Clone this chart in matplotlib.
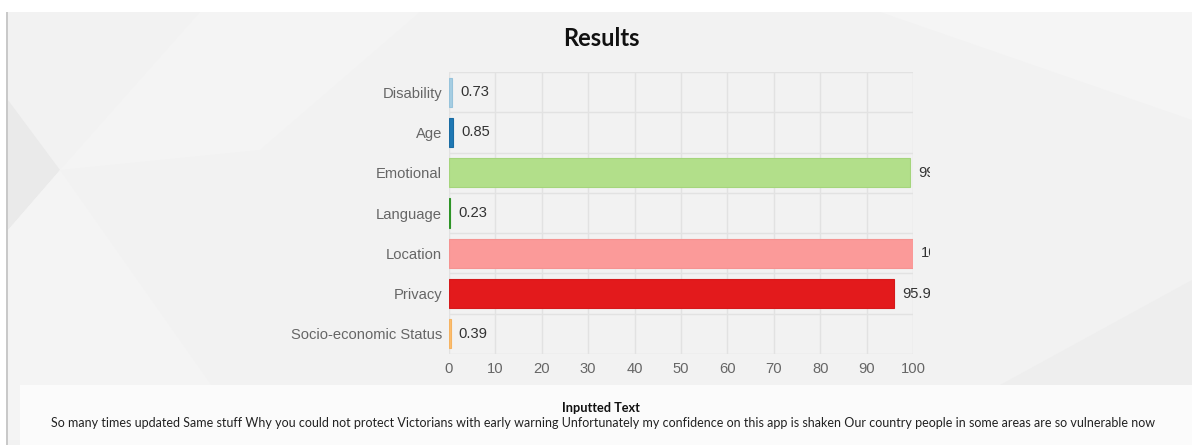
import matplotlib
matplotlib.use('Agg')
import matplotlib.pyplot as plt
from   matplotlib.patches import Rectangle, Polygon
from   matplotlib.transforms import Bbox

categories = ['Disability', 'Age', 'Emotional', 'Language',
              'Location', 'Privacy', 'Socio-economic Status']
scores     = [0.73, 0.85, 99.3, 0.23, 100, 95.93, 0.39]
labels     = ['0.73', '0.85', '99.3', '0.23', '100', '95.93', '0.39']
colors     = ['#a6cee3', '#1f78b4', '#b2df8a', '#33a02c',
              '#fb9a99', '#e31a1c', '#fdbf6f']
edges      = ['#97c3db', '#1a6ca3', '#a5d57c', '#2e9427',
              '#f59391', '#d5191b', '#f5b362']
xticks     = list(range(0, 101, 10))

inputted_text = ('So many times updated Same stuff Why you could not protect Victorians '
                 'with early warning Unfortunately my confidence on this app is shaken '
                 'Our country people in some areas are so vulnerable now')

W, H = 1192, 445
fig = plt.figure(figsize=(W / 100, H / 100), dpi=100)
fig.patch.set_facecolor('white')

def px(x0, y0, x1, y1):
    # pixel box (top-left origin) -> figure fraction rectangle
    return (x0 / W, 1 - y1 / H, (x1 - x0) / W, (y1 - y0) / H)

# page background
x, y, w, h = px(8, 12, W, H)
fig.patches.append(Rectangle((x, y), w, h, transform=fig.transFigure,
                             facecolor='#f2f2f2', edgecolor='none', zorder=-5))
x, y, w, h = px(6, 12, 8, H)
fig.patches.append(Rectangle((x, y), w, h, transform=fig.transFigure,
                             facecolor='#c9c9c9', edgecolor='none', zorder=-4))

# faint facets in the background
facets = [
    ([(8, 100), (60, 170), (8, 230)], '#eaeaea'),
    ([(8, 230), (60, 170), (250, 440), (8, 440)], '#f4f4f4'),
    ([(60, 170), (200, 12), (420, 12), (260, 150)], '#f4f4f4'),
    ([(880, 12), (1192, 12), (1192, 120)], '#f5f5f5'),
    ([(1000, 385), (1192, 280), (1192, 385)], '#eeeeee'),
    ([(200, 385), (250, 440), (290, 385)], '#e8e8e8'),
]
for pts, c in facets:
    fig.patches.append(Polygon([(px_ / W, 1 - py_ / H) for px_, py_ in pts],
                               closed=True, transform=fig.transFigure,
                               facecolor=c, edgecolor='none', zorder=-4))

# text panel at the bottom
x, y, w, h = px(20, 385, W, H)
fig.patches.append(Rectangle((x, y), w, h, transform=fig.transFigure,
                             facecolor='#fbfbfb', edgecolor='none', zorder=-3))

ax = fig.add_axes(px(449, 72, 913, 354))
ax.set_facecolor('none')
ax.set_zorder(5)

pos = list(range(len(categories)))
bars = ax.barh(pos, scores, height=0.72, color=colors, edgecolor=edges,
               linewidth=0.8, zorder=3)

ax.set_xlim(0, 100)
ax.set_ylim(len(categories) - 0.5, -0.5)
ax.set_xticks(xticks)
ax.set_xticklabels([str(t) for t in xticks])
ax.set_yticks(pos)
ax.set_yticklabels(categories)
ax.tick_params(axis='both', length=0, colors='#666666', labelsize=10.6)
ax.tick_params(axis='y', pad=5)
ax.tick_params(axis='x', pad=6)
for t in ax.get_xticklabels() + ax.get_yticklabels():
    t.set_fontfamily('Liberation Sans')

# grid: vertical at every tick, horizontal at category boundaries
for v in xticks:
    ax.axvline(v, color='#e2e2e2', lw=1, zorder=1)
for b in range(len(categories) + 1):
    ax.axhline(b - 0.5, color='#e2e2e2', lw=1, zorder=1)
for s in ax.spines.values():
    s.set_visible(False)

# value labels, cut off at the canvas edge
clip = Bbox.from_extents(0, 0, 930, H)
for i, (v, lab) in enumerate(zip(scores, labels)):
    t = ax.annotate(lab, (v, i), xytext=(8, 0), textcoords='offset pixels',
                    va='center', ha='left', fontsize=10.6, color='#333333',
                    family='Liberation Sans', annotation_clip=False, zorder=4)
    t.set_clip_box(clip)
    t.set_clip_on(True)

fig.text(601 / W, 1 - 38 / H, 'Results', ha='center', va='center',
         fontsize=17, fontweight='bold', family='Lato', color='#111111')
fig.text(601 / W, 1 - 408 / H, 'Inputted Text', ha='center', va='center',
         fontsize=9.2, fontweight='bold', family='Lato', color='#111111')
fig.text(603 / W, 1 - 423 / H, inputted_text, ha='center', va='center',
         fontsize=9.0, family='Lato', color='#222222')

fig.savefig('out.png', dpi=100, facecolor=fig.get_facecolor())
